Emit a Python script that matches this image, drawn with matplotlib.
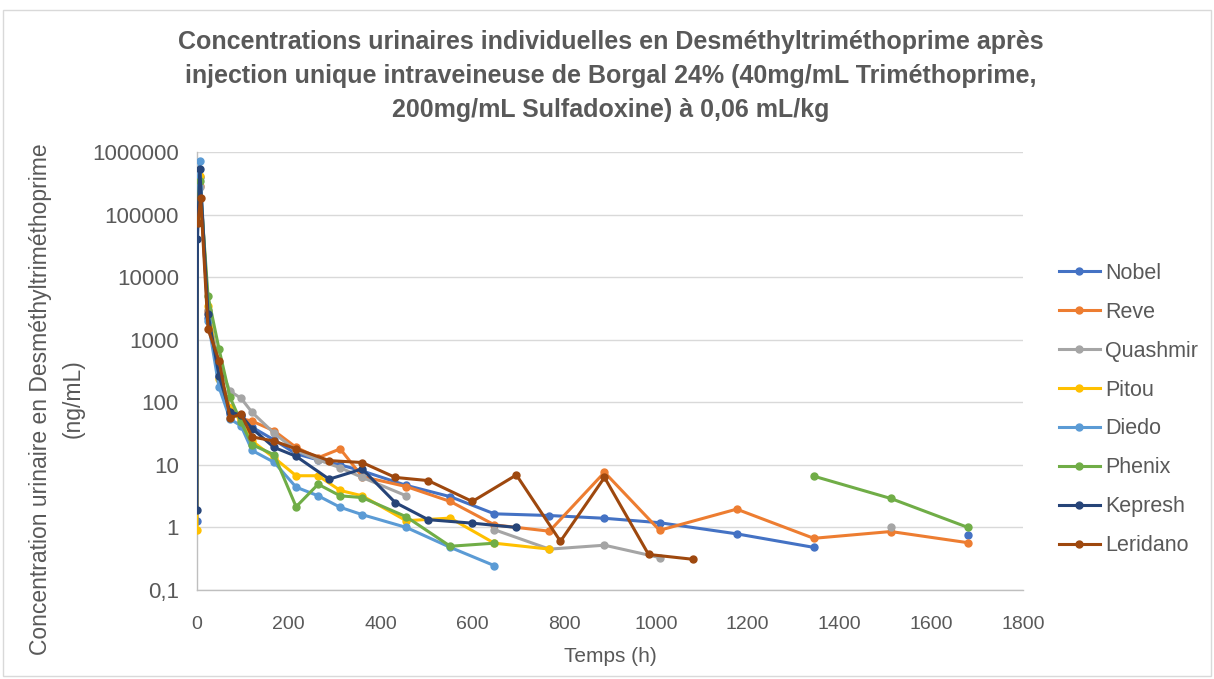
import numpy as np
import matplotlib
matplotlib.use("Agg")
import matplotlib.pyplot as plt
from matplotlib.patches import Rectangle
from matplotlib.ticker import FixedLocator, FixedFormatter

nan = np.nan

# ---- data ----
t_common = [0, 1, 6, 24, 48, 72, 96, 120, 168, 216, 264, 312, 360, 456, 552,
            648, 768, 888, 1008, 1176, 1344, 1512, 1680]

nobel = [1.26, 150000, 400000, 2200, 250, 65, 60, 40, 25, 15, 12, 10, 8, 4.7, 3.1,
         1.65, 1.55, 1.4, 1.19, 0.79, 0.48, nan, 0.76]
reve = [nan, 90000, 290000, 2900, 300, 80, 55, 50, 35, 19, 13, 18, 6.5, 4.5, 2.6,
        1.1, 0.87, 7.6, 0.9, 1.96, 0.67, 0.86, 0.57]
quashmir = [nan, 100000, 280000, 3000, 400, 150, 116, 69, 32, 17, 12, 9, 6.3, 3.2, nan,
            0.92, 0.45, 0.52, 0.33, nan, nan, 1.0, nan]
pitou = [0.9, 95000, 420000, 3500, 235, 80, 50, 24, 13, 6.7, 6.7, 3.9, 3.2, 1.28, 1.41,
         0.56, 0.45, nan, nan, nan, nan, nan, nan]
diedo = [nan, 270000, 720000, 2000, 174, 54, 42, 17, 11, 4.4, 3.2, 2.1, 1.6, 1.0, 0.48,
         0.245, nan, nan, nan, nan, nan, nan, nan]
phenix = [nan, 100000, 350000, 5000, 710, 120, 48, 21, 14.5, 2.14, 4.9, 3.2, 3.0, 1.48, 0.5,
          0.56, nan, nan, nan, nan, 6.6, 2.9, 1.0]

t_kepresh = [0, 1, 6, 24, 48, 72, 96, 120, 168, 216, 288, 360, 432, 504, 600, 696]
kepresh = [1.87, 40000, 540000, 2600, 265, 70, 62, 38, 19, 13.7, 5.9, 8.6, 2.5, 1.33, 1.17, 1.0]

t_leridano = [2, 8, 24, 48, 72, 96, 120, 168, 216, 288, 360, 432, 504, 600, 696, 792, 888, 984, 1080]
leridano = [74000, 187000, 1480, 460, 56, 65, 28, 24, 18, 11.7, 10.9, 6.3, 5.6, 2.6, 6.9, 0.6,
            6.3, 0.37, 0.31]

series = [
    ("Nobel", t_common, nobel, "#4472C4"),
    ("Reve", t_common, reve, "#ED7D31"),
    ("Quashmir", t_common, quashmir, "#A5A5A5"),
    ("Pitou", t_common, pitou, "#FFC000"),
    ("Diedo", t_common, diedo, "#5B9BD5"),
    ("Phenix", t_common, phenix, "#70AD47"),
    ("Kepresh", t_kepresh, kepresh, "#264478"),
    ("Leridano", t_leridano, leridano, "#9E480E"),
]

y_ticks = [0.1, 1, 10, 100, 1000, 10000, 100000, 1000000]
y_labels = ["0,1", "1", "10", "100", "1000", "10000", "100000", "1000000"]
x_ticks = list(range(0, 1801, 200))

title = ("Concentrations urinaires individuelles en Desméthyltriméthoprime après\n"
         "injection unique intraveineuse de Borgal 24% (40mg/mL Triméthoprime,\n"
         "200mg/mL Sulfadoxine) à 0,06 mL/kg")

# ---- plot ----
W, H = 1214, 679
fig = plt.figure(figsize=(W / 100, H / 100), dpi=100)
fam = ["Liberation Sans", "DejaVu Sans"]
plt.rcParams["font.family"] = fam
txt = "#595959"

ax = fig.add_axes([197 / W, 1 - 590 / H, (1023 - 197) / W, (590 - 152) / H])
for name, t, v, c in series:
    ax.plot(t, v, color=c, lw=2.2, marker="o", ms=5, label=name, zorder=3)

ax.set_yscale("log")
ax.set_ylim(0.1, 1000000)
ax.set_xlim(0, 1800)
ax.yaxis.set_major_locator(FixedLocator(y_ticks))
ax.yaxis.set_major_formatter(FixedFormatter(y_labels))
ax.yaxis.set_minor_locator(FixedLocator([]))
ax.set_xticks(x_ticks)
ax.tick_params(axis="x", length=0, labelsize=14, colors=txt, pad=19)
ax.tick_params(axis="y", length=0, labelsize=16, colors=txt, pad=13)
ax.grid(axis="y", color="#D9D9D9", lw=1)
ax.set_axisbelow(True)
for s in ["top", "right"]:
    ax.spines[s].set_visible(False)
for s in ["left", "bottom"]:
    ax.spines[s].set_color("#BFBFBF")
    ax.spines[s].set_linewidth(1)

fig.text(610 / W, 1 - 656 / H, "Temps (h)", ha="center", va="center",
         fontsize=15, color=txt)
fig.text(57 / W, 1 - 399 / H,
         "Concentration urinaire en Desméthyltriméthoprime\n(ng/mL)",
         ha="center", va="center", rotation=90, fontsize=16.5, color=txt,
         linespacing=1.5)

fig.text(611 / W, 1 - 76 / H, title, ha="center", va="center", fontsize=18,
         fontweight="bold", color=txt, linespacing=1.52)

leg = ax.legend(loc="upper left", bbox_to_anchor=(1059 / W, 1 - 263 / H),
                bbox_transform=fig.transFigure, frameon=False, fontsize=15.5,
                labelspacing=0.83, handlelength=1.9, handletextpad=0.25,
                borderaxespad=0, borderpad=0)
for tx in leg.get_texts():
    tx.set_color(txt)

fig.patches.append(Rectangle((3 / W, 1 - 676 / H), (1211 - 3) / W, (676 - 10) / H,
                             transform=fig.transFigure, fill=False,
                             edgecolor="#D9D9D9", lw=1))

fig.savefig("out.png", dpi=100, facecolor="white")
